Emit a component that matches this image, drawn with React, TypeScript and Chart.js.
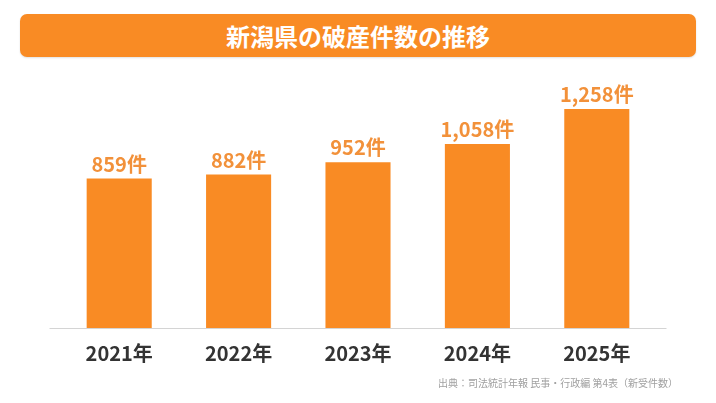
import React, { useEffect, useRef } from "react";
import { Chart, registerables } from "chart.js";

Chart.register(...registerables);

const TITLE = "新潟県の破産件数の推移";
const SOURCE = "出典：司法統計年報 民事・行政編 第4表（新受件数）";
const categories = ["2021年", "2022年", "2023年", "2024年", "2025年"];
const values = [859, 882, 952, 1058, 1258];
const UNIT = "件";

const FONT = '"Noto Sans CJK JP", "Noto Sans", sans-serif';
const BAR_COLOR = "#F98B24";
const LABEL_COLOR = "#F2913A";

const valueLabelPlugin = {
  id: "valueLabels",
  afterDatasetsDraw(chart: any) {
    const ctx = chart.ctx;
    const meta = chart.getDatasetMeta(0);
    ctx.save();
    ctx.font = `bold 20px ${FONT}`;
    ctx.fillStyle = LABEL_COLOR;
    ctx.textAlign = "center";
    ctx.textBaseline = "alphabetic";
    meta.data.forEach((bar: any, i: number) => {
      const v = chart.data.datasets[0].data[i] as number;
      ctx.fillText(v.toLocaleString("en-US") + UNIT, bar.x, bar.y - 7);
    });
    ctx.restore();
  },
};

const baseLinePlugin = {
  id: "baseLine",
  afterDatasetsDraw(chart: any) {
    const ctx = chart.ctx;
    const y = chart.scales.y.getPixelForValue(0);
    const { left, right } = chart.chartArea;
    ctx.save();
    ctx.strokeStyle = "#D4D4D4";
    ctx.lineWidth = 1;
    ctx.beginPath();
    ctx.moveTo(left - 10, y + 0.5);
    ctx.lineTo(right + 10, y + 0.5);
    ctx.stroke();
    ctx.restore();
  },
};

export default function App() {
  const canvasRef = useRef<HTMLCanvasElement | null>(null);

  useEffect(() => {
    document.body.style.margin = "0";
    const chart = new Chart(canvasRef.current!, {
      type: "bar",
      data: {
        labels: categories,
        datasets: [
          {
            data: values,
            backgroundColor: BAR_COLOR,
            borderWidth: 0,
            categoryPercentage: 1,
            barPercentage: 0.545,
          },
        ],
      },
      options: {
        animation: false,
        responsive: false,
        maintainAspectRatio: false,
        layout: { padding: { left: 59.5, right: 59.5, top: 67, bottom: 0 } },
        plugins: {
          legend: { display: false },
          tooltip: { enabled: false },
          title: { display: false },
        },
        scales: {
          x: {
            grid: { display: false, drawTicks: false },
            border: { display: false },
            ticks: {
              color: "#333333",
              font: { family: FONT, size: 20, weight: "bold" },
              padding: 13,
            },
            afterFit(scale: any) {
              scale.height = 403 - 328;
            },
          },
          y: {
            display: false,
            min: 0,
            max: 1500,
          },
        },
      },
      plugins: [baseLinePlugin, valueLabelPlugin],
    });
    return () => chart.destroy();
  }, []);

  return (
    <div
      style={{
        position: "relative",
        width: 716,
        height: 403,
        background: "#ffffff",
        overflow: "hidden",
        fontFamily: FONT,
      }}
    >
      <div
        style={{
          position: "absolute",
          left: 20,
          top: 14,
          width: 676,
          height: 43,
          borderRadius: 7,
          background: BAR_COLOR,
          boxShadow: "0 1px 2px rgba(0,0,0,0.12)",
          color: "#ffffff",
          fontWeight: 700,
          fontSize: 24,
          lineHeight: "43px",
          textAlign: "center",
        }}
      >
        {TITLE}
      </div>
      <canvas
        ref={canvasRef}
        width={716}
        height={403}
        style={{ position: "absolute", left: 0, top: 0, width: 716, height: 403 }}
      />
      <div
        style={{
          position: "absolute",
          right: 38,
          top: 375,
          fontSize: 10,
          lineHeight: "16px",
          color: "#A0A0A0",
          whiteSpace: "nowrap",
        }}
      >
        {SOURCE}
      </div>
    </div>
  );
}
